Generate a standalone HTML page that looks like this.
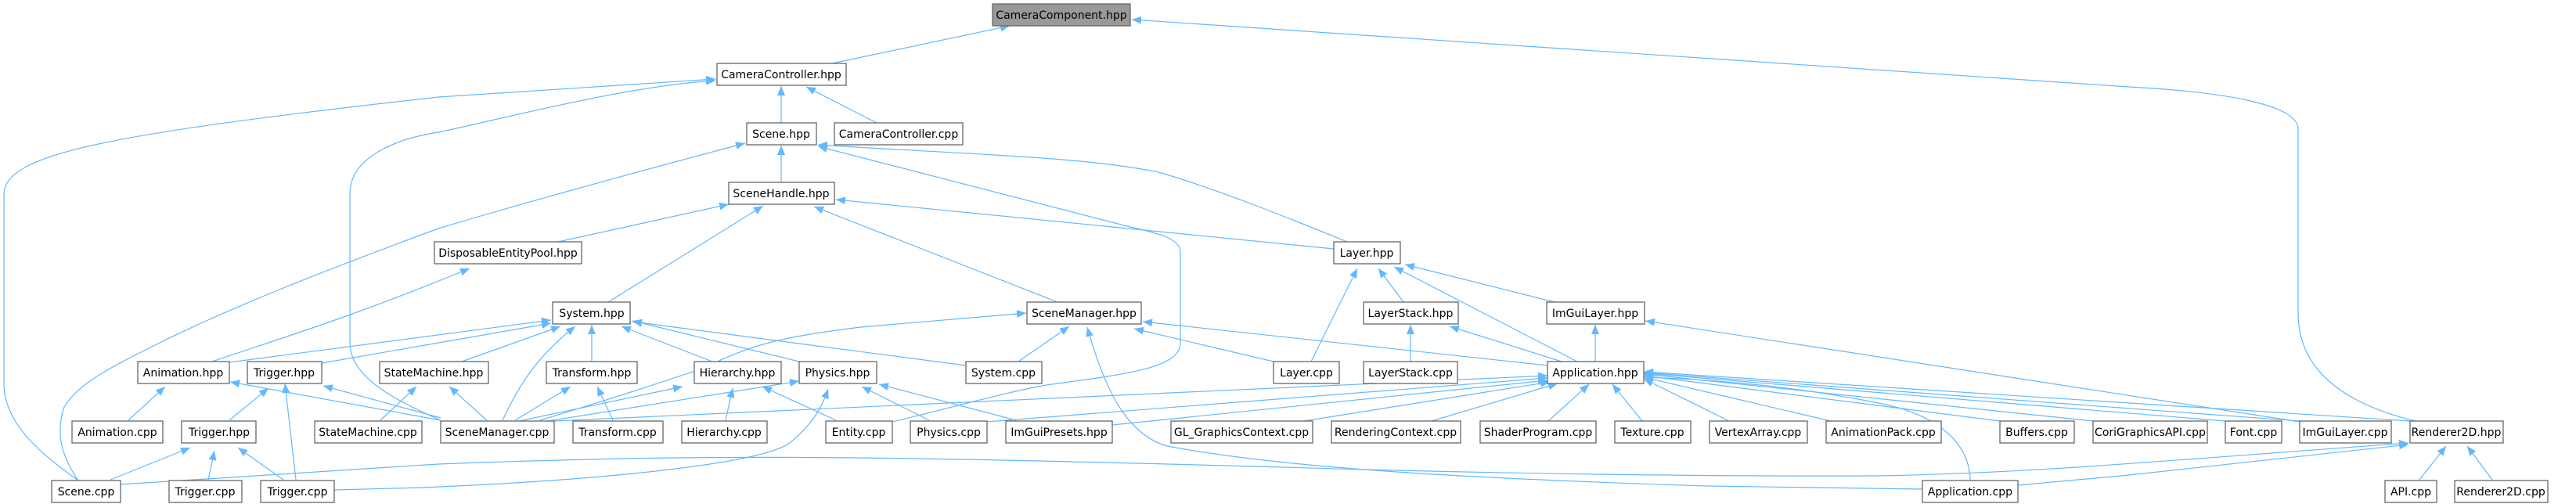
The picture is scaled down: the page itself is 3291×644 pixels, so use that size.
<!DOCTYPE html>
<html><head><meta charset="utf-8"><style>
html,body{margin:0;padding:0;background:#fff;}
svg{display:block;}
text{font-family:"DejaVu Sans","Liberation Sans",sans-serif;font-size:14px;fill:#000;text-anchor:middle;}
.n{fill:#fff;stroke:#666;stroke-width:1.3;}
.e{fill:none;stroke:#63b8ff;stroke-width:1.2;marker-end:url(#a);}
</style></head><body>
<svg width="3291" height="644" viewBox="0 0 3291 644" xmlns="http://www.w3.org/2000/svg">
<defs><marker id="a" markerUnits="userSpaceOnUse" markerWidth="14" markerHeight="12" refX="12" refY="5" orient="auto"><path d="M0,0 L12,5 L0,10 z" fill="#63b8ff"/></marker></defs>
<g>
<path class="e" d="M1063,81 L1290,33"/>
<path class="e" d="M3086,538 C2990,515 2936,470 2936,400 L2936,165 C2936,135 2850,118 2720,111 L1446,25"/>
<path class="e" d="M998,157 L998,110"/>
<path class="e" d="M1120,157 L1030,111"/>
<path class="e" d="M100,614 C60,585 5,545 5,490 L5,248 C5,195 150,170 560,124 L914,101"/>
<path class="e" d="M563,537 C500,510 447,480 447,438 L447,248 C447,195 520,175 560,169 C650,150 800,110 914,103"/>
<path class="e" d="M998,233 L998,186"/>
<path class="e" d="M100,614 C80,585 70,555 82,520 C100,490 140,470 200,440 C300,390 430,340 560,292 C700,250 850,210 952,183"/>
<path class="e" d="M1721,309 C1640,276 1550,240 1480,220 C1380,200 1250,198 1045,185"/>
<path class="e" d="M1140,539 C1200,525 1300,497 1344,491 C1440,478 1508,470 1508,438 L1508,322 C1508,305 1480,298 1444,290 L1045,187"/>
<path class="e" d="M713,309 L931,261"/>
<path class="e" d="M777,386 L975,263"/>
<path class="e" d="M1704,318 L1068,255"/>
<path class="e" d="M1351,386 L1040,264"/>
<path class="e" d="M271,462 C350,435 450,405 600,343"/>
<path class="e" d="M293,463 L704,409"/>
<path class="e" d="M411,464 L704,413"/>
<path class="e" d="M590,462 L716,417"/>
<path class="e" d="M642,537 C660,500 680,460 735,417"/>
<path class="e" d="M756,462 L756,415"/>
<path class="e" d="M910,462 L794,417"/>
<path class="e" d="M1021,462 L808,410"/>
<path class="e" d="M1234,467 L808,411"/>
<path class="e" d="M690,537 C780,510 840,490 900,470 C960,440 1000,430 1100,418 L1311,400"/>
<path class="e" d="M1301,462 L1366,417"/>
<path class="e" d="M2456,625 L2180,621 C1900,612 1650,600 1491,570 C1440,555 1412,500 1389,418"/>
<path class="e" d="M1627,462 L1449,420"/>
<path class="e" d="M1977,467 L1460,411"/>
<path class="e" d="M1675,462 L1734,343"/>
<path class="e" d="M1793,386 L1761,343"/>
<path class="e" d="M2015,462 L1781,341"/>
<path class="e" d="M1986,386 L1795,338"/>
<path class="e" d="M1802,462 L1802,415"/>
<path class="e" d="M1995,462 L1852,417"/>
<path class="e" d="M2038,462 L2038,415"/>
<path class="e" d="M2938,539 L2102,410"/>
<path class="e" d="M708,538 L1977,480"/>
<path class="e" d="M1260,539 L1977,483"/>
<path class="e" d="M1421,543 L1977,486"/>
<path class="e" d="M1666,538 L1980,488"/>
<path class="e" d="M1829,538 L1990,490"/>
<path class="e" d="M1978,538 L2030,491"/>
<path class="e" d="M2098,538 L2060,491"/>
<path class="e" d="M2209,538 L2100,484"/>
<path class="e" d="M2339,538 L2100,482"/>
<path class="e" d="M2555,538 L2100,480"/>
<path class="e" d="M2674,538 L2100,478"/>
<path class="e" d="M2843,538 L2100,477"/>
<path class="e" d="M2938,538 L2100,476"/>
<path class="e" d="M3079,538 L2100,475"/>
<path class="e" d="M2517,614 C2517,570 2480,530 2400,515 C2300,495 2200,485 2100,482"/>
<path class="e" d="M663,538 L872,494"/>
<path class="e" d="M927,537 L936,496"/>
<path class="e" d="M1068,537 L974,494"/>
<path class="e" d="M700,538 L1021,487"/>
<path class="e" d="M1187,537 L1101,494"/>
<path class="e" d="M1298,537 L1123,491"/>
<path class="e" d="M427,626 L540,623 C800,612 980,590 1010,565 C1040,540 1050,520 1058,497"/>
<path class="e" d="M658,537 L729,494"/>
<path class="e" d="M783,537 L763,494"/>
<path class="e" d="M486,537 L532,494"/>
<path class="e" d="M622,537 L574,494"/>
<path class="e" d="M164,537 L211,494"/>
<path class="e" d="M563,537 L294,488"/>
<path class="e" d="M293,537 L343,496"/>
<path class="e" d="M378,613 L364,490"/>
<path class="e" d="M563,534 L413,493"/>
<path class="e" d="M141,613 L243,572"/>
<path class="e" d="M266,613 L274,576"/>
<path class="e" d="M362,613 L304,572"/>
<path class="e" d="M154,619 L560,593 C900,580 1100,582 1640,597 C1900,605 2180,609 2400,608 C2600,604 2720,592 3077,566"/>
<path class="e" d="M2578,620 L2720,607 L3077,568"/>
<path class="e" d="M3091,613 L3125,570"/>
<path class="e" d="M3184,613 L3152,570"/>
</g>
<g>
<rect x="1268" y="5" width="176" height="28" style="fill:#999;stroke:#666;stroke-width:1.3"/><text x="1356" y="24">CameraComponent.hpp</text>
<rect class="n" x="916" y="81" width="165" height="28"/><text x="998" y="100">CameraController.hpp</text>
<rect class="n" x="954" y="157" width="89" height="28"/><text x="998" y="176">Scene.hpp</text>
<rect class="n" x="1066" y="157" width="164" height="28"/><text x="1148" y="176">CameraController.cpp</text>
<rect class="n" x="931" y="233" width="135" height="28"/><text x="998" y="252">SceneHandle.hpp</text>
<rect class="n" x="555" y="309" width="188" height="28"/><text x="649" y="328">DisposableEntityPool.hpp</text>
<rect class="n" x="1704" y="309" width="85" height="28"/><text x="1746" y="328">Layer.hpp</text>
<rect class="n" x="706" y="386" width="99" height="28"/><text x="756" y="405">System.hpp</text>
<rect class="n" x="1312" y="386" width="146" height="28"/><text x="1385" y="405">SceneManager.hpp</text>
<rect class="n" x="1742" y="386" width="121" height="28"/><text x="1802" y="405">LayerStack.hpp</text>
<rect class="n" x="1976" y="386" width="125" height="28"/><text x="2038" y="405">ImGuiLayer.hpp</text>
<rect class="n" x="176" y="462" width="117" height="28"/><text x="234" y="481">Animation.hpp</text>
<rect class="n" x="316" y="462" width="95" height="28"/><text x="363" y="481">Trigger.hpp</text>
<rect class="n" x="485" y="462" width="139" height="28"/><text x="554" y="481">StateMachine.hpp</text>
<rect class="n" x="698" y="462" width="116" height="28"/><text x="756" y="481">Transform.hpp</text>
<rect class="n" x="887" y="462" width="111" height="28"/><text x="942" y="481">Hierarchy.hpp</text>
<rect class="n" x="1021" y="462" width="99" height="28"/><text x="1070" y="481">Physics.hpp</text>
<rect class="n" x="1234" y="462" width="97" height="28"/><text x="1282" y="481">System.cpp</text>
<rect class="n" x="1627" y="462" width="84" height="28"/><text x="1669" y="481">Layer.cpp</text>
<rect class="n" x="1742" y="462" width="120" height="28"/><text x="1802" y="481">LayerStack.cpp</text>
<rect class="n" x="1977" y="462" width="123" height="28"/><text x="2038" y="481">Application.hpp</text>
<rect class="n" x="92" y="538" width="116" height="28"/><text x="150" y="557">Animation.cpp</text>
<rect class="n" x="232" y="538" width="95" height="28"/><text x="280" y="557">Trigger.hpp</text>
<rect class="n" x="402" y="538" width="137" height="28"/><text x="470" y="557">StateMachine.cpp</text>
<rect class="n" x="563" y="538" width="145" height="28"/><text x="635" y="557">SceneManager.cpp</text>
<rect class="n" x="732" y="538" width="115" height="28"/><text x="789" y="557">Transform.cpp</text>
<rect class="n" x="871" y="538" width="109" height="28"/><text x="925" y="557">Hierarchy.cpp</text>
<rect class="n" x="1055" y="538" width="85" height="28"/><text x="1097" y="557">Entity.cpp</text>
<rect class="n" x="1163" y="538" width="98" height="28"/><text x="1212" y="557">Physics.cpp</text>
<rect class="n" x="1285" y="538" width="136" height="28"/><text x="1353" y="557">ImGuiPresets.hpp</text>
<rect class="n" x="1496" y="538" width="181" height="28"/><text x="1586" y="557">GL_GraphicsContext.cpp</text>
<rect class="n" x="1701" y="538" width="165" height="28"/><text x="1783" y="557">RenderingContext.cpp</text>
<rect class="n" x="1891" y="538" width="148" height="28"/><text x="1965" y="557">ShaderProgram.cpp</text>
<rect class="n" x="2063" y="538" width="97" height="28"/><text x="2111" y="557">Texture.cpp</text>
<rect class="n" x="2184" y="538" width="125" height="28"/><text x="2246" y="557">VertexArray.cpp</text>
<rect class="n" x="2333" y="538" width="147" height="28"/><text x="2406" y="557">AnimationPack.cpp</text>
<rect class="n" x="2555" y="538" width="95" height="28"/><text x="2602" y="557">Buffers.cpp</text>
<rect class="n" x="2674" y="538" width="146" height="28"/><text x="2747" y="557">CoriGraphicsAPI.cpp</text>
<rect class="n" x="2843" y="538" width="72" height="28"/><text x="2879" y="557">Font.cpp</text>
<rect class="n" x="2938" y="538" width="117" height="28"/><text x="2996" y="557">ImGuiLayer.cpp</text>
<rect class="n" x="3079" y="538" width="119" height="28"/><text x="3138" y="557">Renderer2D.hpp</text>
<rect class="n" x="66" y="614" width="88" height="28"/><text x="110" y="633">Scene.cpp</text>
<rect class="n" x="216" y="614" width="93" height="28"/><text x="262" y="633">Trigger.cpp</text>
<rect class="n" x="333" y="614" width="94" height="28"/><text x="380" y="633">Trigger.cpp</text>
<rect class="n" x="2456" y="614" width="122" height="28"/><text x="2517" y="633">Application.cpp</text>
<rect class="n" x="3047" y="614" width="66" height="28"/><text x="3080" y="633">API.cpp</text>
<rect class="n" x="3136" y="614" width="119" height="28"/><text x="3195" y="633">Renderer2D.cpp</text>
</g>
</svg>
</body></html>
